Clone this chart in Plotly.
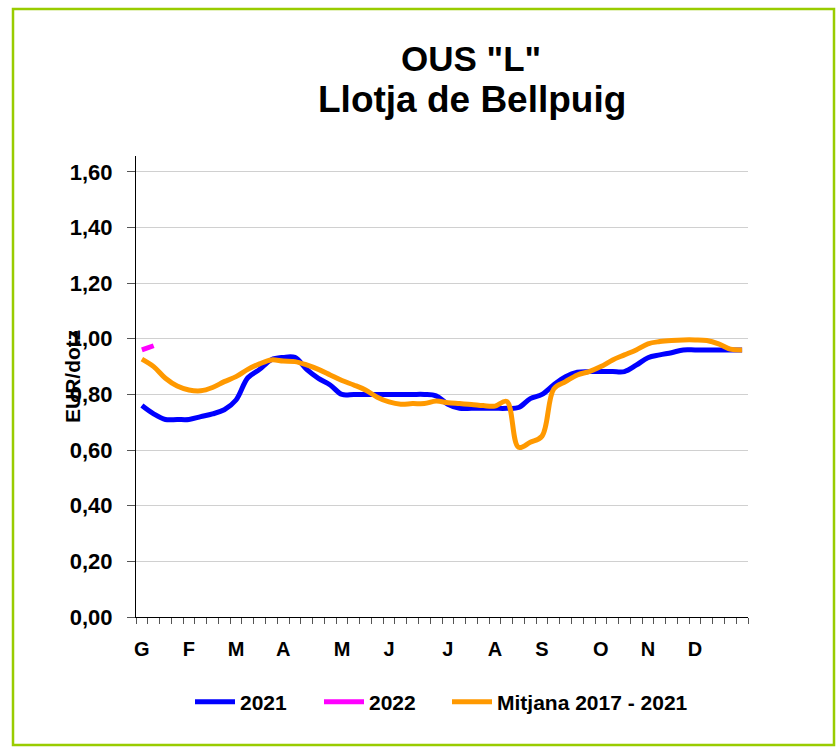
import plotly.graph_objects as go

weeks = list(range(1, 53))
month_ticks = [1, 5, 9, 13, 18, 22, 27, 31, 35, 40, 44, 48]
month_labels = ["G", "F", "M", "A", "M", "J", "J", "A", "S", "O", "N", "D"]
y_ticks = [0, 0.2, 0.4, 0.6, 0.8, 1.0, 1.2, 1.4, 1.6]
y_tick_labels = ["0,00", "0,20", "0,40", "0,60", "0,80", "1,00", "1,20", "1,40", "1,60"]

s2021 = [0.76, 0.73, 0.71, 0.71, 0.71, 0.72, 0.73, 0.745, 0.78, 0.86,
         0.89, 0.925, 0.933, 0.933, 0.89, 0.858, 0.834, 0.80, 0.80, 0.80,
         0.80, 0.80, 0.80, 0.80, 0.80, 0.795, 0.765, 0.75, 0.75, 0.75,
         0.75, 0.75, 0.753, 0.785, 0.80, 0.835, 0.864, 0.88, 0.882, 0.882,
         0.882, 0.882, 0.905, 0.932, 0.942, 0.95, 0.96, 0.96, 0.96, 0.96,
         0.96, 0.96]
s2022 = [0.96, 0.975]
mitjana = [0.927, 0.90, 0.858, 0.83, 0.816, 0.813, 0.825, 0.846, 0.864, 0.89,
           0.91, 0.924, 0.92, 0.918, 0.906, 0.89, 0.87, 0.85, 0.834, 0.816,
           0.79, 0.773, 0.765, 0.767, 0.767, 0.776, 0.77, 0.767, 0.764, 0.76,
           0.758, 0.775, 0.61, 0.628, 0.65, 0.82, 0.846, 0.87, 0.882, 0.90,
           0.924, 0.942, 0.96, 0.982, 0.99, 0.994, 0.996, 0.996, 0.994, 0.982,
           0.963, 0.96]

fig = go.Figure()
fig.add_trace(go.Scatter(x=weeks, y=s2021, name="2021", mode="lines", legend="legend",
                         line=dict(color="#0000FF", width=5, shape="spline")))
fig.add_trace(go.Scatter(x=weeks[:len(s2022)], y=s2022, name="2022", mode="lines",
                         legend="legend2",
                         line=dict(color="#FF00FF", width=5, shape="spline")))
fig.add_trace(go.Scatter(x=weeks, y=mitjana, name="Mitjana 2017 - 2021", mode="lines",
                         legend="legend3",
                         line=dict(color="#FF9900", width=5, shape="spline")))

font_family = "Liberation Sans, Arial, sans-serif"
W, H = 837, 747
PX0, PX1, PY0, PY1 = 136, 748, 156, 617  # plot area in screen px
L, R, T, B = PX0, W - PX1, PY0, H - PY1
pw, ph = PX1 - PX0, PY1 - PY0


def sx(px):
    return (px - PX0) / pw


def sy(py):
    return (PY1 - py) / ph


def legend_at(px):
    return dict(orientation="h", x=sx(px), xanchor="left", y=sy(702),
                yanchor="middle",
                font=dict(size=21, family=font_family, weight="bold"),
                itemwidth=40, bgcolor="rgba(0,0,0,0)")


fig.update_layout(
    width=W, height=H,
    margin=dict(l=L, r=R, t=T, b=B, pad=0),
    paper_bgcolor="white", plot_bgcolor="white",
    font=dict(family=font_family, color="black", size=21),
    showlegend=True,
    legend=legend_at(190),
    legend2=legend_at(319),
    legend3=legend_at(447),
    xaxis=dict(range=[0.5, 52.5], tickmode="array", tickvals=month_ticks,
               ticktext=[f"<b>{m}</b>" for m in month_labels], ticks="",
               showline=True, linecolor="black", linewidth=1, showgrid=False,
               zeroline=False, tickfont=dict(size=20), ticklabelstandoff=14,
               minor=dict(ticks="outside", tick0=0.5, dtick=1, ticklen=6,
                          tickcolor="#555555", tickwidth=1, showgrid=False)),
    yaxis=dict(range=[0, 1.657], tickmode="array", tickvals=y_ticks,
               ticktext=[f"<b>{t}</b>" for t in y_tick_labels],
               ticks="outside", ticklen=8, tickcolor="#555555",
               ticklabelstandoff=10,
               showline=True, linecolor="black", linewidth=1,
               showgrid=True, gridcolor="#D0D0D0", gridwidth=1,
               zeroline=False, tickfont=dict(size=22)),
)

fig.add_annotation(text="<b>OUS \"L\"</b>", xref="paper", yref="paper",
                   x=sx(471), y=sy(58), showarrow=False,
                   xanchor="center", yanchor="middle", font=dict(size=35))
fig.add_annotation(text="<b>Llotja de Bellpuig</b>", xref="paper", yref="paper",
                   x=sx(472), y=sy(100), showarrow=False,
                   xanchor="center", yanchor="middle", font=dict(size=37))
fig.add_annotation(text="<b>EUR/dotz</b>", xref="paper", yref="paper",
                   x=sx(72), y=sy(377), showarrow=False,
                   textangle=-90, xanchor="center", yanchor="middle",
                   font=dict(size=21))

fig.add_shape(type="rect", xref="paper", yref="paper",
              x0=sx(13), x1=sx(834), y0=sy(745), y1=sy(9),
              line=dict(color="#99CC00", width=2.5), layer="below")

fig.write_html("out.html",
               config={"displayModeBar": False},
               post_script="document.body.style.margin='0px';"
                           "document.body.style.overflow='hidden';")
